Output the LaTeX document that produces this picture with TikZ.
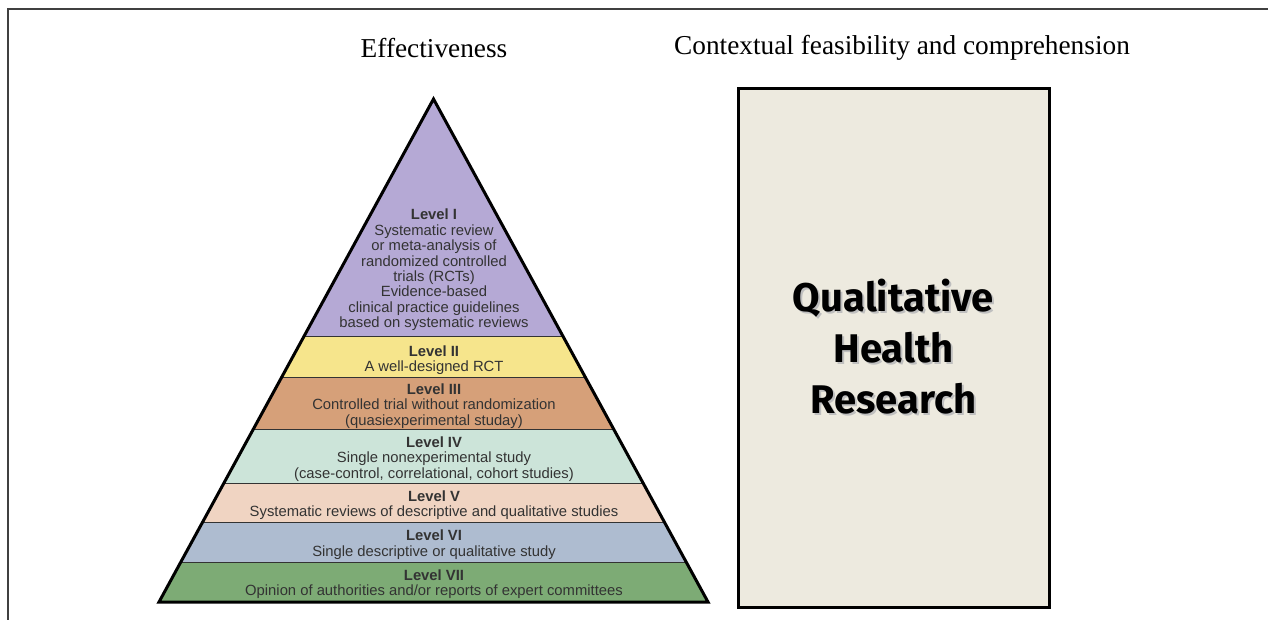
\documentclass[tikz,border=0pt]{standalone}
\usepackage{fontspec}
\setmainfont{Liberation Serif}
\newfontfamily\pyrfont{Liberation Sans}
\newfontfamily\qhrfont{Fira Sans}
\definecolor{lvone}{RGB}{181,169,213}
\definecolor{lvtwo}{RGB}{246,229,140}
\definecolor{lvthree}{RGB}{214,160,121}
\definecolor{lvfour}{RGB}{204,228,217}
\definecolor{lvfive}{RGB}{240,212,194}
\definecolor{lvsix}{RGB}{174,188,208}
\definecolor{lvseven}{RGB}{125,171,117}
\definecolor{qhrbg}{RGB}{237,234,223}
\begin{document}
\begin{tikzpicture}[x=1pt,y=-1pt,
	lvl/.style={align=center,text=black!80,inner sep=0pt,font=\pyrfont\fontsize{14.8}{15.4}\selectfont},
	head/.style={inner sep=0pt,font=\fontsize{27.3}{30}\selectfont},
	qhr/.style={align=center,inner sep=0pt,font=\qhrfont\bfseries\fontsize{40}{51}\selectfont}]
	\useasboundingbox (0,0) rectangle (1268,620);
	\draw[line width=2pt,black!75] (8,620)--(8,9.5)--(1268,9.5);
	\node[head] (eff) at (434,48) {Effectiveness};
	\node[head] (ctx) at (902,48) {Contextual feasibility and comprehension};
	\coordinate (A) at (433.5,99); \coordinate (L) at (159,602); \coordinate (R) at (708,602);
	\begin{scope}
		\clip (A)--(L)--(R)--cycle;
		\foreach \ya/\yb/\c in {99/337/lvone,337/378/lvtwo,378/430/lvthree,430/484/lvfour,484/523/lvfive,523/563/lvsix,563/602/lvseven}{
			\fill[\c] (150,\ya) rectangle (720,\yb);
			\draw[line width=1.5pt,black!80] (150,\yb)--(720,\yb);
		};
	\end{scope}
	\draw[line width=3pt] (A)--(L)--(R)--cycle;
	\node[lvl] (lv1) at (434,270) {\textbf{Level I}\\Systematic review\\or meta-analysis of\\randomized controlled\\trials (RCTs)\\Evidence-based\\clinical practice guidelines\\based on systematic reviews};
	\node[lvl] (lv2) at (434,360) {\textbf{Level II}\\A well-designed RCT};
	\node[lvl] (lv3) at (434,406) {\textbf{Level III}\\Controlled trial without randomization\\(quasiexperimental studay)};
	\node[lvl] (lv4) at (434,459) {\textbf{Level IV}\\Single nonexperimental study\\(case-control, correlational, cohort studies)};
	\node[lvl] (lv5) at (434,505) {\textbf{Level V}\\Systematic reviews of descriptive and qualitative studies};
	\node[lvl] (lv6) at (434,544.5) {\textbf{Level VI}\\Single descriptive or qualitative study};
	\node[lvl] (lv7) at (434,584) {\textbf{Level VII}\\Opinion of authorities and/or reports of expert committees};
	\draw[line width=3pt,fill=qhrbg] (738,89) rectangle (1049,607);
	\node[qhr,text=black!25] at (895.5,349) {Qualitative\\Health\\Research};
	\node[qhr] (qhr) at (893.5,347) {Qualitative\\Health\\Research};
\end{tikzpicture}
\end{document}
